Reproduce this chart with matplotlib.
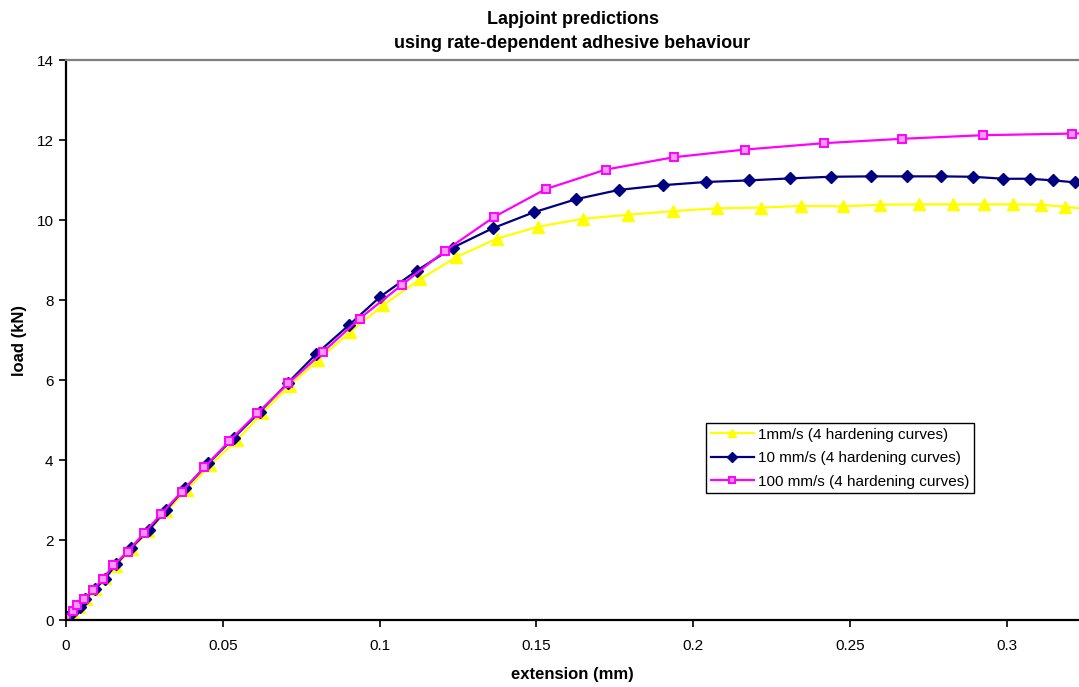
import matplotlib
matplotlib.use("Agg")
import matplotlib.pyplot as plt

plt.rcParams['font.family'] = ['Liberation Sans', 'DejaVu Sans']

# 1 mm/s loading rate
ext_1 = [0.0, 0.0005, 0.0022, 0.004, 0.0063, 0.0093, 0.0125, 0.016, 0.021, 0.0262,
         0.032, 0.0385, 0.046, 0.0545, 0.0625, 0.0713, 0.0804, 0.0907, 0.1011, 0.1128,
         0.1244, 0.1373, 0.1505, 0.1649, 0.1793, 0.1935, 0.2075, 0.2217, 0.2345,
         0.2477, 0.2597, 0.2720, 0.2828, 0.2928, 0.3021, 0.3109, 0.3185, 0.3260]
load_1 = [0.0, 0.04, 0.18, 0.33, 0.53, 0.78, 1.04, 1.36, 1.78, 2.22,
          2.72, 3.26, 3.88, 4.50, 5.18, 5.86, 6.51, 7.21, 7.88, 8.52,
          9.08, 9.54, 9.84, 10.04, 10.14, 10.23, 10.30, 10.32, 10.36,
          10.35, 10.39, 10.40, 10.40, 10.40, 10.40, 10.39, 10.34, 10.28]

# 10 mm/s loading rate
ext_10 = [0.0002, 0.0023, 0.0043, 0.0061, 0.0093, 0.0124, 0.0159, 0.0206, 0.0263,
          0.0319, 0.038, 0.0454, 0.0535, 0.0617, 0.0708, 0.0797, 0.0901, 0.1002,
          0.1118, 0.1234, 0.1360, 0.1491, 0.1627, 0.1762, 0.1904, 0.2042, 0.2179,
          0.2310, 0.2438, 0.2566, 0.2681, 0.2790, 0.2892, 0.2989, 0.3073, 0.3147,
          0.3217, 0.3280]
load_10 = [0.08, 0.19, 0.33, 0.53, 0.78, 1.03, 1.39, 1.79, 2.24,
           2.75, 3.30, 3.92, 4.56, 5.20, 5.94, 6.65, 7.37, 8.09,
           8.74, 9.32, 9.80, 10.20, 10.53, 10.76, 10.88, 10.96, 11.00,
           11.05, 11.09, 11.10, 11.10, 11.10, 11.09, 11.04, 11.04, 11.00,
           10.95, 10.90]

# 100 mm/s loading rate
ext_100 = [0.0, 0.0021, 0.0036, 0.0058, 0.0086, 0.0117, 0.0151, 0.0197, 0.0248,
           0.0304, 0.0369, 0.0441, 0.0521, 0.0609, 0.0709, 0.0820, 0.0936, 0.1070,
           0.1209, 0.1366, 0.1529, 0.1721, 0.1939, 0.2164, 0.2416, 0.2665, 0.2924,
           0.3207, 0.3320]
load_100 = [0.06, 0.23, 0.375, 0.53, 0.76, 1.02, 1.37, 1.71, 2.17,
            2.66, 3.21, 3.82, 4.48, 5.17, 5.92, 6.71, 7.54, 8.38,
            9.24, 10.09, 10.78, 11.27, 11.58, 11.77, 11.93, 12.04, 12.13,
            12.17, 12.19]

labels = ['1mm/s (4 hardening curves)', '10 mm/s (4 hardening curves)',
          '100 mm/s (4 hardening curves)']
x_ticks = [0, 0.05, 0.1, 0.15, 0.2, 0.25, 0.3]
x_tick_labels = ['0', '0.05', '0.1', '0.15', '0.2', '0.25', '0.3']
y_ticks = [0, 2, 4, 6, 8, 10, 12, 14]

fig = plt.figure(figsize=(10.79, 6.87), dpi=100)
ax = fig.add_axes([0.0612, 0.0975, 0.9388, 0.8145])

ax.plot(ext_1, load_1, color='#ffff00', lw=1.6, marker='^', ms=8,
        mec='#ffff00', mfc='#ffff00', label=labels[0])
ax.plot(ext_10, load_10, color='#000080', lw=1.6, marker='D', ms=6.5,
        mec='#000080', mfc='#000080', label=labels[1])
ax.plot(ext_100, load_100, color='#ff00ff', lw=1.6, marker='s', ms=6,
        mec='#ff00ff', mfc='#ff99ff', mew=1.4, label=labels[2])

ax.set_xlim(0, 0.323)
ax.set_ylim(0, 14)
ax.set_xticks(x_ticks)
ax.set_xticklabels(x_tick_labels)
ax.set_yticks(y_ticks)
ax.tick_params(axis='both', direction='out', length=5, width=1.2,
               labelsize=11, colors='black')
ax.tick_params(axis='x', pad=9)
ax.tick_params(axis='y', pad=4)

for side in ('left', 'bottom'):
    ax.spines[side].set_linewidth(1.6)
    ax.spines[side].set_color('black')
ax.spines['top'].set_color('#7f7f8c')
ax.spines['top'].set_linewidth(1.6)
ax.spines['right'].set_visible(False)

ax.set_title('Lapjoint predictions\nusing rate-dependent adhesive behaviour',
             fontsize=13, fontweight='bold', pad=9, linespacing=1.55)
ax.set_xlabel('extension (mm)', fontsize=12, fontweight='bold', labelpad=10)
ax.set_ylabel('load (kN)', fontsize=12, fontweight='bold', labelpad=7)

leg = ax.legend(loc='upper left', bbox_to_anchor=(0.632, 0.352),
                fontsize=11, frameon=True, fancybox=False, framealpha=1,
                edgecolor='black', borderpad=0.3, handlelength=2.8,
                handletextpad=0.3, labelspacing=0.62, borderaxespad=0,
                markerscale=0.75)
leg.get_frame().set_linewidth(1.0)

fig.savefig('out.png', dpi=100)
